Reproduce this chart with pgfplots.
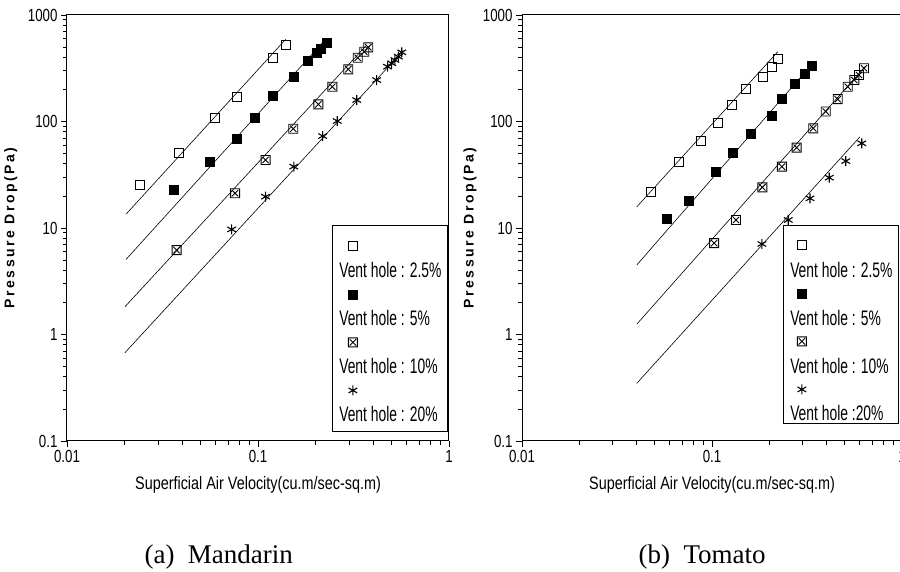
\documentclass[border=0pt]{standalone}
\usepackage{pgfplots}
\pgfplotsset{compat=1.18}
\usepackage{fontspec}
\setmainfont{Liberation Serif}
\newfontfamily\tickfont[FakeStretch=0.76]{Liberation Sans}
\newfontfamily\legfont[FakeStretch=0.66]{Liberation Sans}
\newfontfamily\xlabfont[FakeStretch=0.8]{Liberation Sans}
\newfontfamily\ylabfont[LetterSpace=18]{Liberation Sans Bold}

% square with a cross inside
\pgfdeclareplotmark{sqx}{%
  \pgfpathrectangle{\pgfqpoint{-\pgfplotmarksize}{-\pgfplotmarksize}}{\pgfqpoint{2\pgfplotmarksize}{2\pgfplotmarksize}}%
  \pgfpathmoveto{\pgfqpoint{-0.7\pgfplotmarksize}{-0.7\pgfplotmarksize}}%
  \pgfpathlineto{\pgfqpoint{0.7\pgfplotmarksize}{0.7\pgfplotmarksize}}%
  \pgfpathmoveto{\pgfqpoint{-0.7\pgfplotmarksize}{0.7\pgfplotmarksize}}%
  \pgfpathlineto{\pgfqpoint{0.7\pgfplotmarksize}{-0.7\pgfplotmarksize}}%
  \pgfusepathqstroke}

\pgfplotsset{
  fitline/.style={black, line width=0.6bp, no marks, forget plot},
  p25/.style={only marks, mark=square, mark size=4.5bp, mark options={line width=0.9bp, black}},
  p5/.style={only marks, mark=square*, mark size=4.5bp, mark options={black, fill=black}},
  p10/.style={only marks, mark=sqx, mark size=4.5bp, mark options={line width=0.9bp, black}},
  p20/.style={only marks, mark=asterisk, mark size=5bp, mark options={line width=1.1bp, black}},
}

\begin{document}
\begin{tikzpicture}

% (a) Mandarin
\begin{axis}[
  scale only axis, width=382bp, height=426bp,
  at={(67bp,131bp)}, anchor=south west,
  xmode=log, ymode=log,
  xmin=0.01, xmax=1, ymin=0.1, ymax=1000,
  xtick={0.01,0.1,1}, xticklabels={0.01,0.1,1},
  ytick={0.1,1,10,100,1000}, yticklabels={0.1,1,10,100,1000},
  minor xtick={0.02,0.03,0.04,0.05,0.06,0.07,0.08,0.09,0.2,0.3,0.4,0.5,0.6,0.7,0.8,0.9},
  minor ytick={0.2,0.3,0.4,0.5,0.6,0.7,0.8,0.9,2,3,4,5,6,7,8,9,20,30,40,50,60,70,80,90,200,300,400,500,600,700,800,900},
  tick pos=left, tick align=outside,
  major tick length=6bp, minor tick length=4bp,
  every tick/.style={black, line width=0.8bp},
  axis line style={line width=1bp},
  tick label style={font=\tickfont\fontsize{17.5bp}{21bp}\selectfont},
  xlabel={Superficial Air Velocity(cu.m/sec-sq.m)},
  ylabel={Pressure Drop(Pa)},
  xlabel style={font=\xlabfont\fontsize{18bp}{21bp}\selectfont, at={(axis description cs:0.5,-0.103)}, anchor=center},
  ylabel style={font=\ylabfont\fontsize{14bp}{16bp}\selectfont, at={(axis description cs:-0.147,0.5)}, anchor=center},
  legend cell align=left,
  legend image code/.code={\path (0bp,0bp); \draw[#1, overlay] plot coordinates {(14bp,-2bp)};},
  legend style={draw=black, line width=0.8bp, fill=white, anchor=north west,
    at={(axis description cs:0.694,0.507)},
    font=\legfont\fontsize{21bp}{24bp}\selectfont,
    row sep=0pt, inner xsep=6bp, inner ysep=7bp,
    nodes={inner sep=0pt, text height=15bp, text depth=9bp}},
]
\addplot[fitline] coordinates {(0.0204,13.5) (0.1396,591)};
\addplot[fitline] coordinates {(0.0204,5.08) (0.224,582)};
\addplot[fitline] coordinates {(0.0201,1.82) (0.371,523)};
\addplot[fitline] coordinates {(0.0201,0.674) (0.576,463)};

\addplot[p25] coordinates {(0.0241,25.3) (0.0386,50.3) (0.0596,107) (0.0773,171) (0.1195,397) (0.1396,523)};
\addlegendentry{}
\addlegendimage{empty legend}\addlegendentry{\raisebox{-6bp}{Vent hole : 2.5\%}}
\addplot[p5] coordinates {(0.0363,22.7) (0.0556,42.3) (0.0773,69.5) (0.0957,109) (0.120,173) (0.153,264) (0.183,370) (0.203,443) (0.213,487) (0.229,555)};
\addlegendentry{}
\addlegendimage{empty legend}\addlegendentry{\raisebox{-6bp}{Vent hole : 5\%}}
\addplot[p10] coordinates {(0.0375,6.2) (0.0759,21.2) (0.1096,43.5) (0.153,85.5) (0.207,145) (0.245,212) (0.297,309) (0.333,397) (0.360,452) (0.378,497)};
\addlegendentry{}
\addlegendimage{empty legend}\addlegendentry{\raisebox{-6bp}{Vent hole : 10\%}}
\addplot[p20] coordinates {(0.0728,9.7) (0.1096,19.7) (0.154,37.7) (0.218,73) (0.260,101) (0.329,159) (0.418,245) (0.477,327) (0.501,352) (0.521,378) (0.543,406) (0.566,446)};
\addlegendentry{}
\addlegendimage{empty legend}\addlegendentry{\raisebox{-6bp}{Vent hole : 20\%}}
\end{axis}

% (b) Tomato
\begin{axis}[
  scale only axis, width=380bp, height=426bp,
  at={(522bp,131bp)}, anchor=south west,
  xmode=log, ymode=log,
  xmin=0.01, xmax=1, ymin=0.1, ymax=1000,
  xtick={0.01,0.1,1}, xticklabels={0.01,0.1,1},
  ytick={0.1,1,10,100,1000}, yticklabels={0.1,1,10,100,1000},
  minor xtick={0.02,0.03,0.04,0.05,0.06,0.07,0.08,0.09,0.2,0.3,0.4,0.5,0.6,0.7,0.8,0.9},
  minor ytick={0.2,0.3,0.4,0.5,0.6,0.7,0.8,0.9,2,3,4,5,6,7,8,9,20,30,40,50,60,70,80,90,200,300,400,500,600,700,800,900},
  tick pos=left, tick align=outside,
  major tick length=6bp, minor tick length=4bp,
  every tick/.style={black, line width=0.8bp},
  axis line style={line width=1bp},
  tick label style={font=\tickfont\fontsize{17.5bp}{21bp}\selectfont},
  xlabel={Superficial Air Velocity(cu.m/sec-sq.m)},
  ylabel={Pressure Drop(Pa)},
  xlabel style={font=\xlabfont\fontsize{18bp}{21bp}\selectfont, at={(axis description cs:0.5,-0.103)}, anchor=center},
  ylabel style={font=\ylabfont\fontsize{14bp}{16bp}\selectfont, at={(axis description cs:-0.137,0.5)}, anchor=center},
  legend cell align=left,
  legend image code/.code={\path (0bp,0bp); \draw[#1, overlay] plot coordinates {(12bp,-5bp)};},
  legend style={draw=black, line width=0.8bp, fill=white, anchor=north west,
    at={(axis description cs:0.687,0.507)},
    font=\legfont\fontsize{21bp}{24bp}\selectfont,
    row sep=0pt, inner xsep=6bp, inner ysep=3bp,
    nodes={inner sep=0pt, text height=15bp, text depth=9bp}},
]
\addplot[fitline] coordinates {(0.0402,15.8) (0.222,452)};
\addplot[fitline] coordinates {(0.0402,4.5) (0.339,352)};
\addplot[fitline] coordinates {(0.0402,1.25) (0.638,327)};
\addplot[fitline] coordinates {(0.0402,0.348) (0.601,71.9)};

\addplot[p25] coordinates {(0.0477,21.6) (0.0670,41.4) (0.0872,65.2) (0.108,97.5) (0.127,143) (0.151,200) (0.186,260) (0.206,327) (0.223,384)};
\addlegendentry{}
\addlegendimage{empty legend}\addlegendentry{\raisebox{-10.5bp}{Vent hole : 2.5\%}}
\addplot[p5] coordinates {(0.0578,12.1) (0.0757,17.9) (0.1045,33.8) (0.1285,51.4) (0.160,76.3) (0.206,113) (0.233,163) (0.274,225) (0.309,279) (0.335,334)};
\addlegendentry{}
\addlegendimage{empty legend}\addlegendentry{\raisebox{-10.5bp}{Vent hole : 5\%}}
\addplot[p10] coordinates {(0.1026,7.2) (0.1337,11.9) (0.184,24.1) (0.233,37.7) (0.279,56.8) (0.341,86.3) (0.397,124) (0.459,162) (0.518,212) (0.561,245) (0.594,273) (0.631,316)};
\addlegendentry{}
\addlegendimage{empty legend}\addlegendentry{\raisebox{-10.5bp}{Vent hole : 10\%}}
\addplot[p20] coordinates {(0.183,7.08) (0.252,11.9) (0.328,19.0) (0.414,29.7) (0.506,42.5) (0.614,62.4)};
\addlegendentry{}
\addlegendimage{empty legend}\addlegendentry{\raisebox{-9bp}{Vent hole :20\%}}
\end{axis}

\node[anchor=base west, font=\fontsize{27bp}{32bp}\selectfont] at (141bp,9bp) {(a)\hspace{0.5em}Mandarin};
\node[anchor=base west, font=\fontsize{27bp}{32bp}\selectfont] at (635bp,9bp) {(b)\hspace{0.5em}Tomato};

\pgfresetboundingbox
\useasboundingbox (0bp,0bp) rectangle (900bp,572bp);
\end{tikzpicture}
\end{document}
